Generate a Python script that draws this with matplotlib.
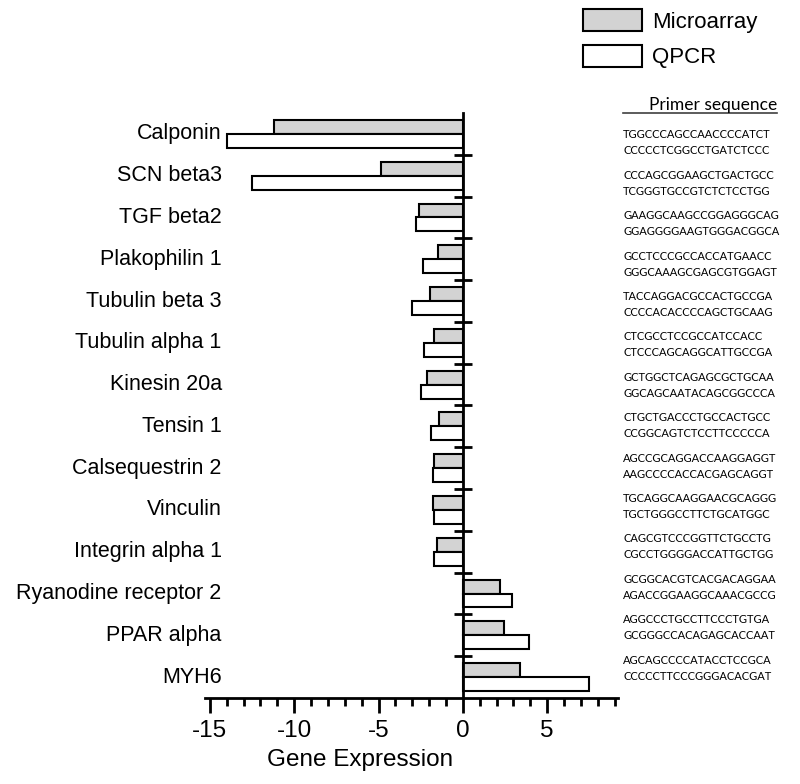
import numpy as np
import matplotlib
matplotlib.use("Agg")
import matplotlib.pyplot as plt
import matplotlib.transforms as mtransforms

genes = ["Calponin", "SCN beta3", "TGF beta2", "Plakophilin 1", "Tubulin beta 3",
         "Tubulin alpha 1", "Kinesin 20a", "Tensin 1", "Calsequestrin 2", "Vinculin",
         "Integrin alpha 1", "Ryanodine receptor 2", "PPAR alpha", "MYH6"]
microarray = [-11.2, -4.86, -2.59, -1.48, -1.92, -1.72, -2.12, -1.40, -1.70, -1.76,
              -1.52, 2.23, 2.45, 3.38]
qpcr = [-13.97, -12.49, -2.79, -2.35, -3.0, -2.29, -2.49, -1.86, -1.76, -1.70,
        -1.70, 2.92, 3.91, 7.47]
primers = [
    ("TGGCCCAGCCAACCCCATCT", "CCCCCTCGGCCTGATCTCCC"),
    ("CCCAGCGGAAGCTGACTGCC", "TCGGGTGCCGTCTCTCCTGG"),
    ("GAAGGCAAGCCGGAGGGCAG", "GGAGGGGAAGTGGGACGGCA"),
    ("GCCTCCCGCCACCATGAACC", "GGGCAAAGCGAGCGTGGAGT"),
    ("TACCAGGACGCCACTGCCGA", "CCCCACACCCCAGCTGCAAG"),
    ("CTCGCCTCCGCCATCCACC", "CTCCCAGCAGGCATTGCCGA"),
    ("GCTGGCTCAGAGCGCTGCAA", "GGCAGCAATACAGCGGCCCA"),
    ("CTGCTGACCCTGCCACTGCC", "CCGGCAGTCTCCTTCCCCCA"),
    ("AGCCGCAGGACCAAGGAGGT", "AAGCCCCACCACGAGCAGGT"),
    ("TGCAGGCAAGGAACGCAGGG", "TGCTGGGCCTTCTGCATGGC"),
    ("CAGCGTCCCGGTTCTGCCTG", "CGCCTGGGGACCATTGCTGG"),
    ("GCGGCACGTCACGACAGGAA", "AGACCGGAAGGCAAACGCCG"),
    ("AGGCCCTGCCTTCCCTGTGA", "GCGGGCCACAGAGCACCAAT"),
    ("AGCAGCCCCATACCTCCGCA", "CCCCCTTCCCGGGACACGAT"),
]

plt.rcParams['font.family'] = ['Liberation Sans', 'DejaVu Sans']
plt.rcParams['axes.unicode_minus'] = False

fig = plt.figure(figsize=(8, 7.84), dpi=100)
ax = fig.add_axes([0.256, 0.1097, 0.5165, 0.7462])

y = np.arange(len(genes))
h = 1 / 3
ax.barh(y - h / 2, microarray, height=h, color='#d3d3d3', edgecolor='black',
        linewidth=1.5, label='Microarray')
ax.barh(y + h / 2, qpcr, height=h, color='white', edgecolor='black',
        linewidth=1.5, label='QPCR')

ax.set_ylim(len(genes) - 0.5, -0.5)
ax.set_xlim(-15.3, 9.2)

for s in ['top', 'right']:
    ax.spines[s].set_visible(False)
ax.spines['left'].set_position(('data', 0))
ax.spines['left'].set_linewidth(2)
ax.spines['bottom'].set_linewidth(2)
ax.spines['left'].set_zorder(5)

ax.set_yticks(y[:-1] + 0.5)
ax.set_yticklabels([])
ax.tick_params(axis='y', direction='inout', length=13, width=2)

ax.set_xticks([-15, -10, -5, 0, 5])
ax.set_xticks(np.arange(-15, 10), minor=True)
ax.tick_params(axis='x', which='major', length=11, width=2, labelsize=17.5, pad=5)
ax.tick_params(axis='x', which='minor', length=6, width=2)

trans = mtransforms.blended_transform_factory(ax.transAxes, ax.transData)
for yi, g in zip(y, genes):
    ax.text(0.041, yi, g, transform=trans, ha='right', va='center', fontsize=15.5)

fig.text(360 / 800, 1 - 760 / 784, "Gene Expression", ha='center', va='center',
         fontsize=17.5)

fig.legend(loc='upper left', bbox_to_anchor=(583 / 800, 1 - 9 / 784), frameon=False,
           fontsize=16, handlelength=2.65, handleheight=1.15, labelspacing=0.55,
           handletextpad=0.45, borderpad=0, borderaxespad=0)

# primer column
fig.text(777 / 800, 1 - 105 / 784, "Primer sequence", ha='right', va='center',
         fontsize=12.5, family='Lato')
fig.add_artist(plt.Line2D([623 / 800, 777 / 800], [1 - 113 / 784, 1 - 113 / 784],
                          color='#404040', linewidth=1.2))
for i, (f, r) in enumerate(primers):
    yy = 135 + i * 40.4
    fig.text(623 / 800, 1 - yy / 784, f, ha='left', va='center', fontsize=8.0,
             family='Lato')
    fig.text(623 / 800, 1 - (yy + 16) / 784, r, ha='left', va='center', fontsize=8.0,
             family='Lato')

fig.savefig("out.png", dpi=100)
